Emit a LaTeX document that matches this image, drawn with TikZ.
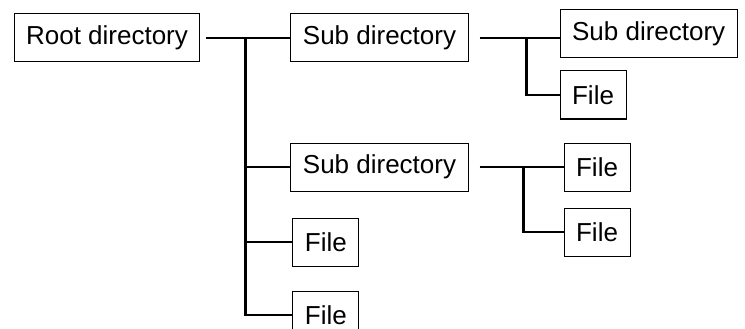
\documentclass[tikz,border=0pt]{standalone}
\usepackage{fontspec}
\setmainfont{Liberation Sans}
\usetikzlibrary{positioning,calc}
\tikzset{
  box/.style={draw=black,line width=1pt,fill=white,inner xsep=12pt,
              minimum height=48pt,font=\fontsize{26}{30}\selectfont},
  link/.style={line width=2.3pt,black},
  heading/.style={anchor=base west,inner sep=0pt,
              font=\fontsize{26}{30}\selectfont\bfseries},
}
\begin{document}
\begin{tikzpicture}[x=1pt,y=-1pt]
  \path[use as bounding box,fill=white] (0,0) rectangle (745,329);
  \clip (0,0) rectangle (745,329);
  \node[heading] (title) at (20,-5) {Directory diagram};
  \node[box] (root) at (107,38) {Root directory};
  \node[box,right=90pt of root] (sub1) {Sub directory};
  \node[box,right=91pt of sub1,yshift=4pt] (subA) {Sub directory};
  \node[box,below right=12pt and 0pt of subA.south west,anchor=north west] (fileA) {File};
  \node[box,below=80pt of sub1] (sub2) {Sub directory};
  \node[box,right=95pt of sub2] (fileB) {File};
  \node[box,below=16pt of fileB] (fileC) {File};
  \node[box,below right=26pt and 2pt of sub2.south west,anchor=north west] (file1) {File};
  \node[box,below=24pt of file1] (file2) {File};
  % root level
  \coordinate (trunk) at ($(root.east)!0.5!(sub1.west)$);
  \draw[link] ([xshift=6pt]root.east) -- (sub1.west);
  \draw[link] (trunk) |- (sub2.west);
  \draw[link] (trunk) |- (file1.west);
  \draw[link] (trunk) |- (file2.west);
  % first sub directory
  \coordinate (brA) at ([xshift=58pt]sub1.east);
  \draw[link] ([xshift=11pt]sub1.east) -- (sub1.east -| subA.west);
  \draw[link] (brA) |- (fileA.west);
  % second sub directory
  \coordinate (brB) at ([xshift=55pt]sub2.east);
  \draw[link] ([xshift=11pt]sub2.east) -- (fileB.west);
  \draw[link] (brB) |- (fileC.west);
\end{tikzpicture}
\end{document}
